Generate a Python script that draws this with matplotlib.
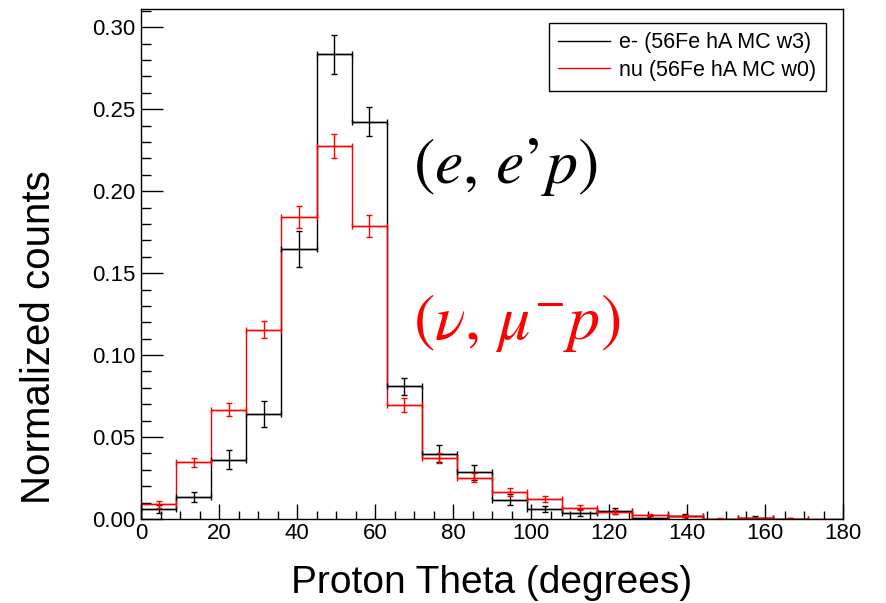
import numpy as np
import matplotlib
matplotlib.use("Agg")
import matplotlib.pyplot as plt
from matplotlib.ticker import MultipleLocator, FormatStrFormatter

plt.rcParams['font.family'] = ['Liberation Sans', 'DejaVu Sans']
plt.rcParams['mathtext.fontset'] = 'stix'

# ---- data ----
bin_edges = np.arange(0, 181, 9)
electron = [0.0063, 0.0134, 0.0363, 0.0639, 0.165, 0.2835, 0.2424, 0.081, 0.0399, 0.0285,
            0.0118, 0.0061, 0.0039, 0.0049, 0.0009, 0.0018, 0.0, 0.0008, 0.0003, 0.0]
electron_err = [0.0025, 0.0031, 0.0058, 0.0078, 0.011, 0.0118, 0.009, 0.0052, 0.005, 0.0047,
                0.0033, 0.002, 0.002, 0.002, 0.001, 0.0015, 0.0, 0.001, 0.0005, 0.0]
neutrino = [0.009, 0.0346, 0.0668, 0.1156, 0.1842, 0.2277, 0.1787, 0.0694, 0.0372, 0.0253,
            0.0165, 0.0122, 0.007, 0.0043, 0.0025, 0.0018, 0.0003, 0.0005, 0.0002, 0.0]
neutrino_err = [0.002, 0.0028, 0.004, 0.0052, 0.0066, 0.0074, 0.0066, 0.0043, 0.003, 0.0025,
                0.0022, 0.0018, 0.0015, 0.0012, 0.0008, 0.0008, 0.0003, 0.0004, 0.0002, 0.0]
labels = ["e- (56Fe hA MC w3)", "nu (56Fe hA MC w0)"]

W, H = 886, 603
fig = plt.figure(figsize=(W / 100, H / 100), dpi=100)
L, R, T, B = 141, 843, 9, 519
ax = fig.add_axes([L / W, 1 - B / H, (R - L) / W, (B - T) / H])

centers = (bin_edges[:-1] + bin_edges[1:]) / 2
halfw = np.diff(bin_edges) / 2

for vals, errs, col, lab in [(electron, electron_err, 'black', labels[0]),
                             (neutrino, neutrino_err, '#ff0000', labels[1])]:
    v = np.array(vals)
    e = np.array(errs)
    ax.stairs(v, bin_edges, color=col, lw=1.0, label=lab)
    m = v > 0
    ax.errorbar(centers[m], v[m], yerr=e[m], xerr=halfw[m], fmt='none', ecolor=col,
                elinewidth=1.0, capsize=2.5, capthick=1.0)

ax.set_xlim(0, 180)
ax.set_ylim(0, (B - T) / ((B - 27.3) / 0.30))

ax.xaxis.set_major_locator(MultipleLocator(20))
ax.xaxis.set_minor_locator(MultipleLocator(5))
ax.yaxis.set_major_locator(MultipleLocator(0.05))
ax.yaxis.set_minor_locator(MultipleLocator(0.01))
ax.yaxis.set_major_formatter(FormatStrFormatter('%.2f'))

ax.tick_params(axis='both', which='both', direction='in', width=1.0, labelsize=16,
               top=False, right=False)
ax.tick_params(axis='y', which='major', length=15.6, pad=4)
ax.tick_params(axis='y', which='minor', length=7.2)
ax.tick_params(axis='x', which='major', length=10.8, pad=3)
ax.tick_params(axis='x', which='minor', length=5.8)
for s in ax.spines.values():
    s.set_linewidth(1.0)

fig.text(492 / W, 1 - 593 / H, "Proton Theta (degrees)", ha='center', va='baseline',
         fontsize=28)
fig.text(50 / W, 1 - 337 / H, "Normalized counts", ha='center', va='baseline',
         rotation=90, rotation_mode='anchor', fontsize=29)

fig.text(413 / W, 1 - 167 / H, r"$(e,\,e’p)$", ha='left', va='center', fontsize=46,
         color='black')
fig.text(413 / W, 1 - 323 / H, r"$(\nu,\,\mu^{-}p)$", ha='left', va='center', fontsize=46,
         color='#ff0000')

leg = ax.legend(loc='upper right', bbox_to_anchor=(826 / W, 1 - 22.7 / H),
                bbox_transform=fig.transFigure, fontsize=15.5, frameon=True,
                fancybox=False, edgecolor='black', framealpha=1, handlelength=2.4,
                handletextpad=0.42, borderpad=0.45, labelspacing=0.3, borderaxespad=0)
leg.get_frame().set_linewidth(1.0)

fig.savefig("out.png", dpi=100)
